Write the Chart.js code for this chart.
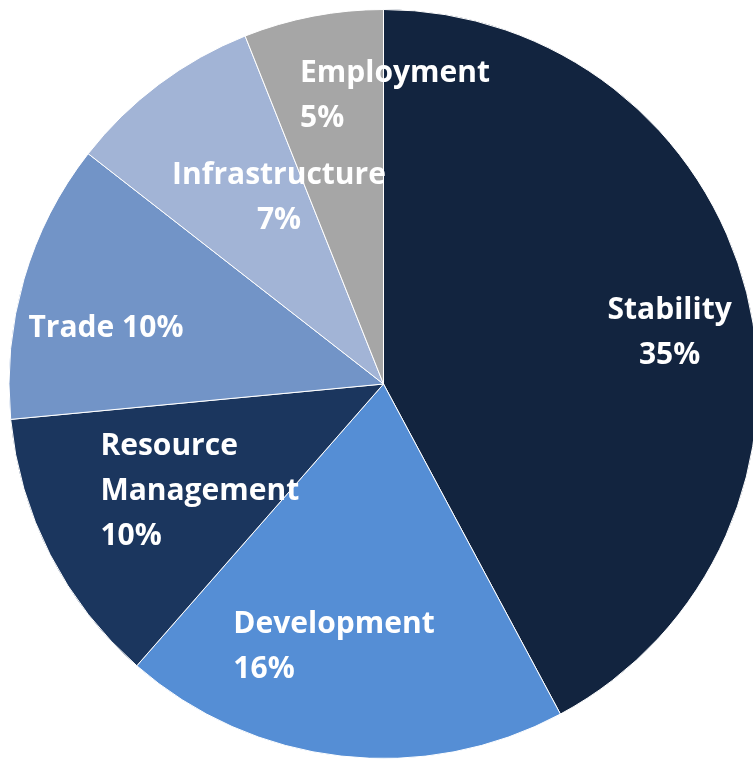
<!DOCTYPE html>
<html>
<head>
<meta charset="utf-8">
<script src="https://cdn.jsdelivr.net/npm/chart.js@4.4.1/dist/chart.umd.min.js"></script>
<style>
  html, body { margin: 0; padding: 0; background: #ffffff; }
  #wrap { width: 753px; height: 761px; overflow: hidden; position: relative; }
  #pie { display: block; }
</style>
</head>
<body>
<div id="wrap">
  <canvas id="pie" width="767" height="768"></canvas>
</div>
<script>
// Chart data
const categories = ['Stability', 'Development', 'Resource Management', 'Trade', 'Infrastructure', 'Employment'];
const shares = [35, 16, 10, 10, 7, 5];
const sliceColors = ['#12243f', '#558ed5', '#1b365e', '#7294c7', '#a2b4d6', '#a6a6a6'];

// label text lines per slice
const labelLines = [
    ['Stability', '35%'],
    ['Development', '16%'],
    ['Resource', 'Management', '10%'],
    ['Trade 10%'],
    ['Infrastructure', '7%'],
    ['Employment', '5%']
];

// where each label block sits, in units of the pie radius from its centre
const labelLayout = [
    { dx: 0.764, dy: -0.136, align: 'center' },
    { dx: -0.401, dy: 0.703, align: 'left' },
    { dx: -0.756, dy: 0.288, align: 'left' },
    { dx: -0.948, dy: -0.149, align: 'left' },
    { dx: -0.279, dy: -0.496, align: 'center' },
    { dx: -0.223, dy: -0.768, align: 'left' }
];

const sliceLabels = {
    id: 'sliceLabels',
    afterDatasetsDraw(chart) {
        const ctx = chart.ctx;
        const arcs = chart.getDatasetMeta(0).data;
        ctx.save();
        ctx.fillStyle = '#ffffff';
        ctx.font = 'bold 30px "Open Sans"';
        ctx.textBaseline = 'middle';
        const lineH = 45;
        arcs.forEach((arc, i) => {
            const lay = labelLayout[i];
            const r = arc.outerRadius;
            const x = arc.x + lay.dx * r;
            const cy = arc.y + lay.dy * r;
            const lines = labelLines[i];
            ctx.textAlign = lay.align;
            lines.forEach((txt, j) => {
                const y = cy + (j - (lines.length - 1) / 2) * lineH;
                ctx.fillText(txt, x, y);
            });
        });
        ctx.restore();
    }
};

new Chart(document.getElementById('pie'), {
    type: 'pie',
    data: {
        labels: categories,
        datasets: [{
            data: shares,
            backgroundColor: sliceColors,
            borderColor: '#ffffff',
            borderWidth: 1
        }]
    },
    options: {
        responsive: false,
        animation: false,
        devicePixelRatio: 1,
        layout: { padding: { left: 8, top: 9, right: 8, bottom: 9 } },
        plugins: {
            legend: { display: false },
            tooltip: { enabled: false }
        }
    },
    plugins: [sliceLabels]
});
</script>
</body>
</html>
